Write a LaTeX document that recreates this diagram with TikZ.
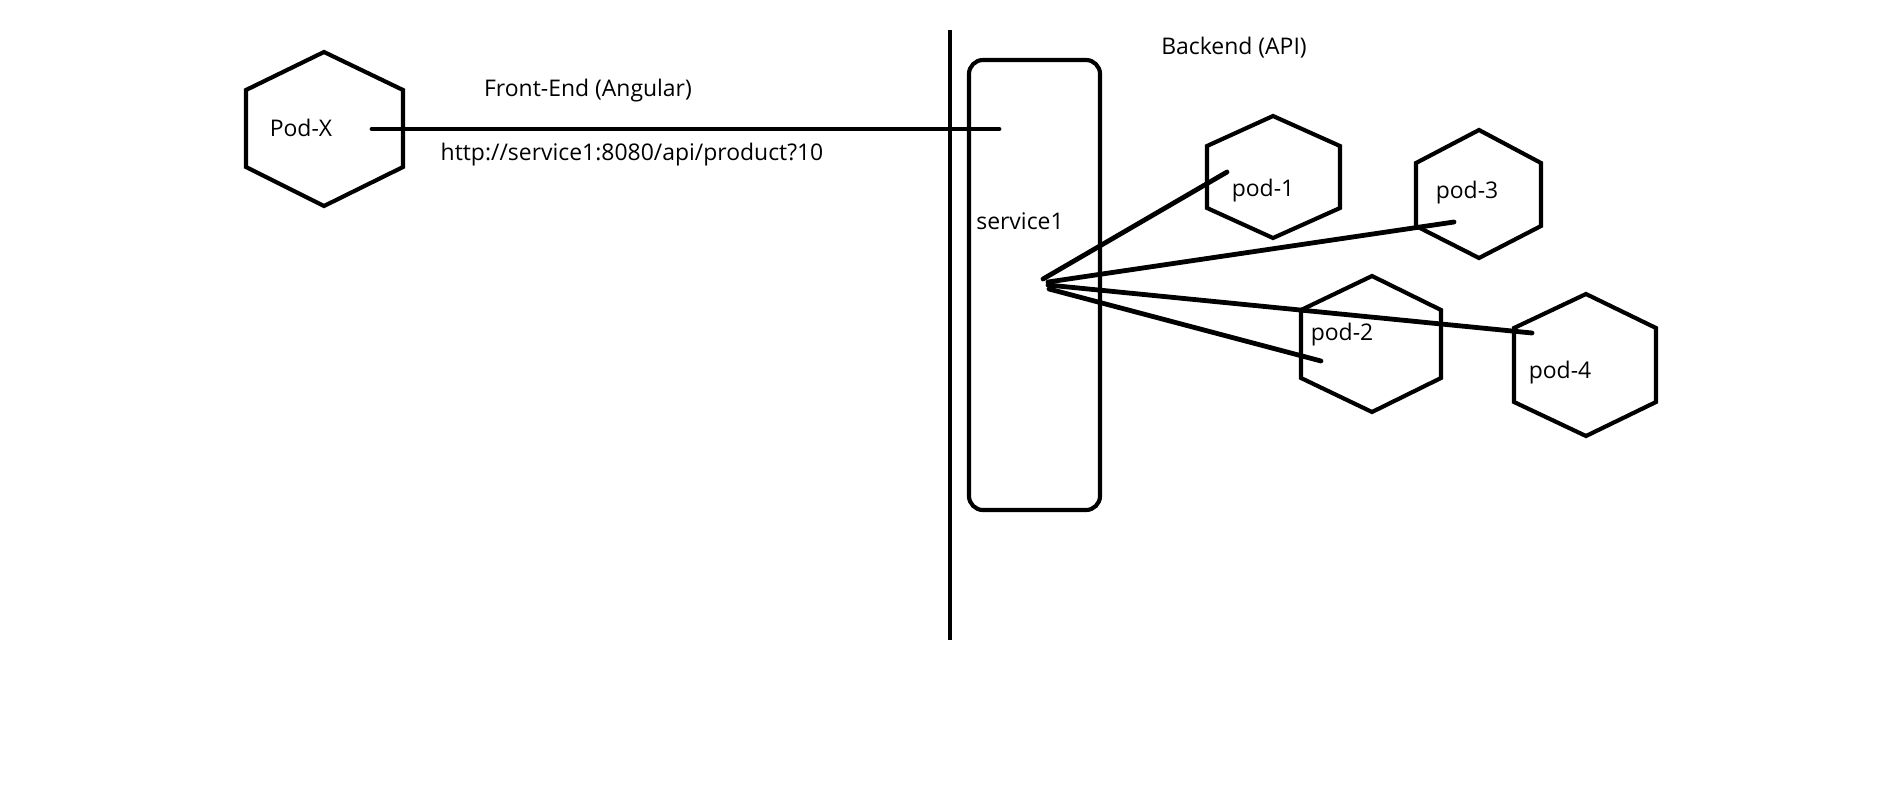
\documentclass[tikz,border=0pt]{standalone}
\usepackage{fontspec}
\setmainfont{Open Sans}
\begin{document}
\begin{tikzpicture}[x=0.75pt,y=-0.75pt,
  shape line/.style={line width=3.1pt, line join=miter},
  wire/.style={line width=3.6pt, line cap=round},
  divider/.style={line width=2.6pt},
  lbl/.style={inner sep=0pt, font=\fontsize{17.2}{20}\selectfont}]
\useasboundingbox (0,0) rectangle (1892,797);
% divider
\draw[divider] (950,30) -- (950,640);
% service box
\draw[shape line, rounded corners=10.5pt] (969,60) rectangle (1100,510);
% hexagons
\draw[shape line] (324,52) -- (403,90) -- (403,167) -- (324,206) -- (246,167) -- (246,90) -- cycle;
\draw[shape line] (1273,116) -- (1340,146) -- (1340,208) -- (1273,238) -- (1207,208) -- (1207,146) -- cycle;
\draw[shape line] (1479,130) -- (1541,163) -- (1541,226) -- (1479,258) -- (1416,226) -- (1416,163) -- cycle;
\draw[shape line] (1372,276) -- (1441,310) -- (1441,378) -- (1372,412) -- (1301,378) -- (1301,310) -- cycle;
\draw[shape line] (1586,294) -- (1656,328) -- (1656,402) -- (1586,436) -- (1514,402) -- (1514,328) -- cycle;
% texts
\node[lbl] (podx) at (301,128) {Pod-X};
\node[lbl] (fe) at (588,91) {Front-End (Angular)};
\node[lbl] (url) at (632,155) {http://service1:8080/api/product?10};
\node[lbl] (svc) at (1020,221) {service1};
\node[lbl] (be) at (1234,48) {Backend (API)};
\node[lbl] (p1) at (1263,191) {pod-1};
\node[lbl] (p3) at (1467,193) {pod-3};
\node[lbl] (p2) at (1342,335) {pod-2};
\node[lbl] (p4) at (1560,373) {pod-4};
% connector endpoints
\coordinate (xs) at (372,129);
\coordinate (xe) at (999,129);
\coordinate (h1) at (1043,279);
\coordinate (h3) at (1048,282);
\coordinate (h4) at (1048,285);
\coordinate (h2) at (1049,289);
\coordinate (e1) at (1227,172);
\coordinate (e3) at (1454,222);
\coordinate (e4) at (1532,333);
\coordinate (e2) at (1321,361);
\draw[wire] (xs) -- (xe);
\draw[wire] (h1) -- (e1);
\draw[wire] (h3) -- (e3);
\draw[wire] (h4) -- (e4);
\draw[wire] (h2) -- (e2);
\end{tikzpicture}
\end{document}
